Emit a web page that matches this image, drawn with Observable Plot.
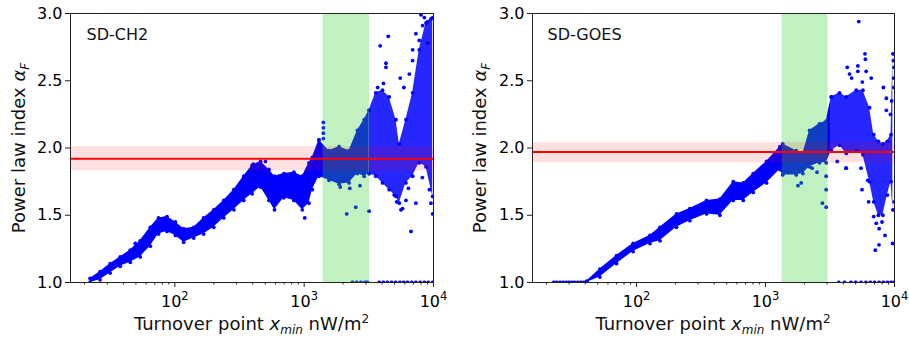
<!DOCTYPE html>
<html><head><meta charset="utf-8">
<script src="https://cdn.jsdelivr.net/npm/d3@7"></script>
<script src="https://cdn.jsdelivr.net/npm/@observablehq/plot@0.6"></script>
<style>
body{margin:0;background:#fff;}
#wrap{display:flex;width:909px;height:340px;overflow:hidden;}
#wrap svg{flex:none;max-width:none;}
</style></head><body><div id="wrap"></div>
<script>
// ---------- shared ----------
const yTicks = [1.0, 1.5, 2.0, 2.5, 3.0];
const xMajor = [100, 1000, 10000];
const xMinor = [20,30,40,50,60,70,80,90,200,300,400,500,600,700,800,900,2000,3000,4000,5000,6000,7000,8000,9000];
const xDomain = [15.6, 10000];

// ---------- SD-CH2 ----------
const ch2Name = "SD-CH2";
const ch2Fit = 1.92, ch2FitLo = 1.83, ch2FitHi = 2.01;
const ch2Span = [1400, 3200];
const ch2X  = [22.1, 26.4, 31.6, 37.8, 45.2, 54, 64.6, 74.8, 87, 101, 117, 140, 167, 200, 239, 286, 341, 396, 460, 534, 590, 697, 833, 968, 1090, 1157, 1302, 1555, 1862, 2225, 2581, 2909, 3177];
const ch2Lo = [1.00, 1.02, 1.07, 1.12, 1.15, 1.19, 1.27, 1.36, 1.38, 1.35, 1.30, 1.33, 1.36, 1.41, 1.48, 1.54, 1.61, 1.66, 1.71, 1.61, 1.54, 1.63, 1.61, 1.54, 1.59, 1.69, 1.79, 1.76, 1.73, 1.74, 1.81, 1.79, 1.81];
const ch2Hi = [1.03, 1.08, 1.14, 1.19, 1.24, 1.31, 1.41, 1.48, 1.49, 1.45, 1.40, 1.41, 1.48, 1.54, 1.61, 1.69, 1.79, 1.87, 1.90, 1.84, 1.79, 1.81, 1.82, 1.79, 1.89, 1.93, 2.06, 1.98, 2.01, 1.98, 2.13, 2.21, 2.28];
const ch2OutX  = [3177, 3580, 4035, 4543, 5127, 5440, 6120, 6900, 7760, 8750, 9860];
const ch2OutLo = [1.81, 1.79, 1.74, 1.69, 1.64, 1.59, 1.74, 1.79, 1.89, 1.86, 1.64];
const ch2OutHi = [2.28, 2.41, 2.43, 2.38, 2.21, 2.03, 2.21, 2.41, 2.73, 2.93, 2.97];
const ch2PtX = [1010,1409,1409,1409,1409,1300,2133,2506,3177,2254,2700,1900,49.4,404,502,
  3873,4467,4290,4290,5530,3700,4100,
  4966,5600,5770,6700,6120,7310,9860,9550,9300,5200,6400,8200,
  8000,8490,9020,9550,8240,7310,9020,7760,6900,6890,6500,5900,
  2360,2550,2750,2950,3090,3800,4100,4400,4750,5100,5500,5900,6300,6800,7300,7900,8500,9100,9860];
const ch2PtY = [1.48,2.19,2.15,2.11,2.07,2.06,1.51,1.56,1.53,1.70,1.72,1.71,1.29,1.88,1.90,
  2.76,2.83,2.63,2.60,2.52,2.45,2.48,
  1.65,1.54,1.55,1.38,1.61,1.59,1.51,1.59,1.69,1.60,1.70,1.78,
  2.99,2.97,2.94,2.96,2.91,2.85,2.78,2.80,2.73,2.65,2.55,2.45,
  1,1,1,1,1,1,1,1,1,1,1,1,1,1,1,1,1,1,1];

// ---------- SD-GOES ----------
const goesName = "SD-GOES";
const goesFit = 1.97, goesFitLo = 1.89, goesFitHi = 2.04;
const goesSpan = [1346, 3048];
const goesX  = [41, 52, 70, 94, 127, 152, 204, 259, 349, 443, 562, 672, 803, 1019, 1294, 1360, 1730, 1950, 2195, 2623, 2953, 3236];
const goesLo = [1.00, 1.04, 1.14, 1.23, 1.29, 1.31, 1.41, 1.46, 1.51, 1.50, 1.61, 1.61, 1.67, 1.74, 1.84, 1.80, 1.80, 1.81, 1.86, 1.89, 1.89, 1.98];
const goesHi = [1.01, 1.10, 1.20, 1.29, 1.35, 1.41, 1.51, 1.55, 1.61, 1.62, 1.75, 1.74, 1.81, 1.90, 2.01, 2.03, 1.98, 1.96, 2.13, 2.18, 2.20, 2.38];
const goesOutX  = [3236, 3750, 4227, 5050, 5690, 6410, 6900, 7500, 8130, 8800, 9400, 9710];
const goesOutLo = [1.98, 2.02, 1.96, 1.98, 1.95, 1.75, 1.60, 1.50, 1.50, 1.65, 1.75, 1.54];
const goesOutHi = [2.38, 2.41, 2.38, 2.43, 2.43, 2.30, 2.10, 2.05, 2.03, 2.05, 2.10, 2.70];
const goesPtX = [1785,1890,2510,2760,2950,2950,2950,2300,
  5280,5900,5950,6030,4300,4480,5200,5200,6600,4650,5630,8650,8650,8200,
  7100,7580,9660,8440,7220,6900,7600,8000,6300,5500,4200,3600,4227,5600,6200,
  9800,9900,9850,9500,9300,9900,9950,
  22.8,24,25.5,27,28.5,30,31.5,33,35,37,39,41,
  3700,4100,4600,5000,5500,6000,6500,7000,7600,8200,8800,9400,9900];
const goesPtY = [1.72,1.74,1.82,1.59,1.56,1.69,1.79,1.85,
  2.94,2.70,2.66,2.57,2.60,2.55,2.61,2.57,2.52,2.52,2.49,2.37,2.28,2.45,
  1.24,1.28,1.29,1.35,1.44,1.49,1.40,1.45,1.60,1.85,1.85,1.90,1.85,1.69,1.76,
  2.65,2.60,2.52,2.35,2.25,2.45,1.60,
  1,1,1,1,1,1,1,1,1,1,1,1,
  1,1,1,1,1,1,1,1,1,1,1,1,1];

const rows = (xs, los, his) => xs.map((x, i) => ({x, lo: los[i], hi: his[i]}));
const pts = (xs, ys) => xs.map((x, i) => ({x, y: ys[i]}));

function panel(o) {
  const core = rows(o.x, o.lo, o.hi);
  const outer = rows(o.ox, o.olo, o.ohi);
  const dots = pts(o.px, o.py);
  const R = 1.9;
  const svg = Plot.plot({
    width: o.width, height: 340,
    marginLeft: o.ml, marginRight: o.mr, marginTop: 13, marginBottom: 58,
    style: {fontFamily: "DejaVu Sans", fontSize: "16px", color: "#000", background: "#fff", overflow: "visible"},
    x: {type: "log", domain: xDomain},
    y: {domain: [1, 3]},
    marks: [
      Plot.areaY(core, {x: "x", y1: "lo", y2: "hi", fill: "blue", clip: true}),
      Plot.areaY(outer, {x: "x", y1: "lo", y2: "hi", fill: "blue", fillOpacity: 0.85, clip: true}),
      Plot.dot(core, {x: "x", y: "lo", r: R, fill: "blue", clip: true}),
      Plot.dot(core, {x: "x", y: "hi", r: R, fill: "blue", clip: true}),
      Plot.dot(outer, {x: "x", y: "lo", r: R, fill: "blue", clip: true}),
      Plot.dot(outer, {x: "x", y: "hi", r: R, fill: "blue", clip: true}),
      Plot.dot(dots, {x: "x", y: "y", r: R, fill: "blue", clip: true}),
      Plot.rect([{a: o.span[0], b: o.span[1]}], {x1: "a", x2: "b", fill: "limegreen", fillOpacity: 0.3}),
      Plot.rect([{a: o.fitLo, b: o.fitHi}], {y1: "a", y2: "b", fill: "red", fillOpacity: 0.12}),
      Plot.ruleY([o.fit], {stroke: "red", strokeWidth: 2}),
      Plot.frame({stroke: "#222", strokeWidth: 1}),
      Plot.axisY({ticks: yTicks, tickFormat: d => d.toFixed(1), tickSize: 5, tickPadding: 3, label: null, fontSize: 16, stroke: "#222"}),
      Plot.axisX({ticks: xMinor.filter(t => t > xDomain[0]), tickFormat: () => "", tickSize: 2.5, label: null, stroke: "#222"}),
      Plot.axisX({ticks: xMajor, tickFormat: d => "10|" + Math.round(Math.log10(d)), tickSize: 5, tickPadding: 8, label: null, fontSize: 16, stroke: "#222"}),
      Plot.text([o.name], {frameAnchor: "top-left", textAnchor: "start", lineAnchor: "top", dx: o.tdx, dy: 15, fontSize: 16, fill: "#111"})
    ]
  });
  const s = d3.select(svg);
  // mathtext-like superscripts on the major tick labels
  s.selectAll("text").each(function() {
    const t = this.textContent;
    if (/^10\|\d$/.test(t)) {
      const [base, ex] = t.split("|");
      const el = d3.select(this);
      el.text(null);
      el.append("tspan").text(base);
      el.append("tspan").attr("font-size", 11.5).attr("dy", -7).text(ex);
    }
  });
  const yl = s.append("text")
    .attr("transform", `translate(${o.ylx},148) rotate(-90)`)
    .attr("text-anchor", "middle").attr("font-size", 18).attr("fill", "#111");
  yl.append("tspan").text("Power law index ");
  yl.append("tspan").attr("font-style", "italic").text("\u03B1");
  yl.append("tspan").attr("font-style", "italic").attr("font-size", 12).attr("dy", 4).text("F");
  const xl = s.append("text")
    .attr("x", o.ml + (o.width - o.ml - o.mr) / 2).attr("y", 330)
    .attr("text-anchor", "middle").attr("font-size", 18).attr("fill", "#111");
  xl.append("tspan").text("Turnover point ");
  xl.append("tspan").attr("font-style", "italic").text("x");
  xl.append("tspan").attr("font-style", "italic").attr("font-size", 12).attr("dy", 4).text("min");
  xl.append("tspan").attr("dy", -4).text(" nW/m");
  xl.append("tspan").attr("font-size", 12).attr("dy", -7).text("2");
  return svg;
}

const wrap = document.getElementById("wrap");
wrap.appendChild(panel({
  width: 455, ml: 70, mr: 22, ylx: 25, tdx: 16, name: ch2Name,
  x: ch2X, lo: ch2Lo, hi: ch2Hi, ox: ch2OutX, olo: ch2OutLo, ohi: ch2OutHi,
  px: ch2PtX, py: ch2PtY, span: ch2Span, fit: ch2Fit, fitLo: ch2FitLo, fitHi: ch2FitHi
}));
wrap.appendChild(panel({
  width: 454, ml: 77, mr: 15, ylx: 31, tdx: 15, name: goesName,
  x: goesX, lo: goesLo, hi: goesHi, ox: goesOutX, olo: goesOutLo, ohi: goesOutHi,
  px: goesPtX, py: goesPtY, span: goesSpan, fit: goesFit, fitLo: goesFitLo, fitHi: goesFitHi
}));
</script>
</body></html>
